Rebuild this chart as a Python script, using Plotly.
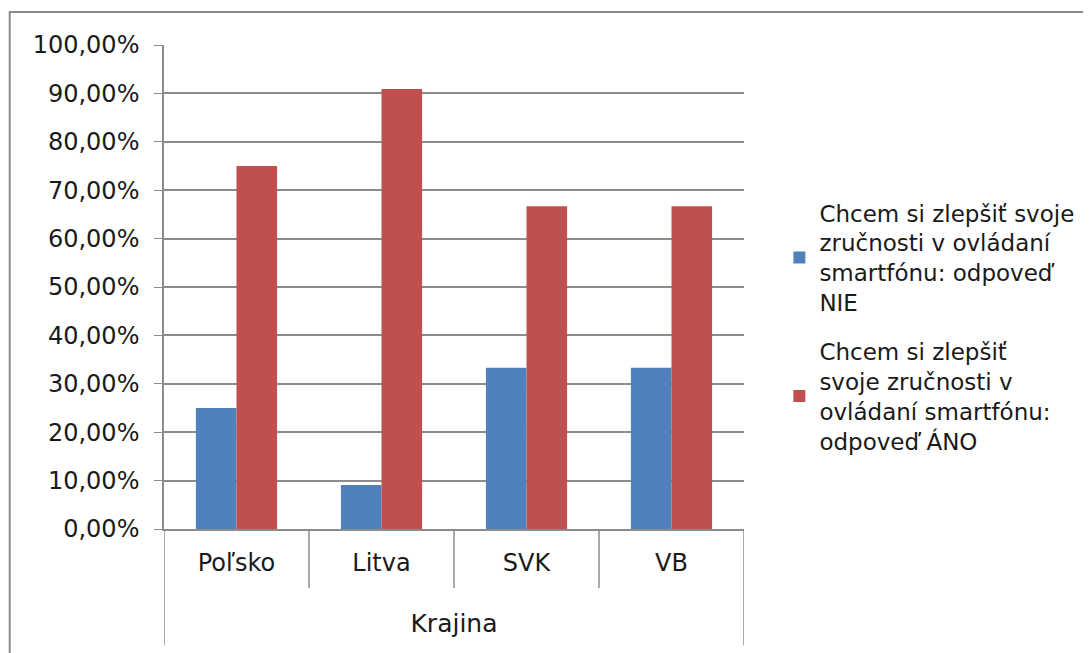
import plotly.graph_objects as go

krajiny = ["Poľsko", "Litva", "SVK", "VB"]
nie = [0.25, 0.0909, 0.3333, 0.3333]
ano = [0.75, 0.9091, 0.6667, 0.6667]
nazov_nie = "Chcem si zlepšiť svoje<br>zručnosti v ovládaní<br>smartfónu: odpoveď<br>NIE"
nazov_ano = "Chcem si zlepšiť<br>svoje zručnosti v<br>ovládaní smartfónu:<br>odpoveď ÁNO"

GRID = "#8c8c8c"
FONT = dict(family="DejaVu Sans, Verdana, sans-serif", size=24, color="#1a1a1a")

fig = go.Figure()
fig.add_trace(go.Bar(x=krajiny, y=nie, name=nazov_nie, legendgroup="nie",
                     marker=dict(color="#4F81BD", line=dict(width=0))))
fig.add_trace(go.Bar(x=krajiny, y=ano, name=nazov_ano, legendgroup="ano",
                     marker=dict(color="#C0504D", line=dict(width=0))))

# category separators reaching down under the labels (Excel style multi-level axis)
for i in range(len(krajiny) + 1):
    outer = i == 0 or i == len(krajiny)
    fig.add_shape(type="line", xref="x", yref="paper", x0=i - 0.5, x1=i - 0.5,
                  y0=0, y1=-0.24 if outer else -0.122, line=dict(color=GRID, width=1.5))

# chart border
fig.add_shape(type="rect", xref="paper", yref="paper", x0=-0.266, x1=2, y0=-1, y1=1.068,
              line=dict(color="#8a8a8a", width=2))

# page body adds 8px, so the figure is 8px smaller than the window
fig.update_layout(
    width=1083, height=645,
    font=FONT,
    separators=", ",
    barmode="group", bargap=0.44, bargroupgap=0,
    plot_bgcolor="white", paper_bgcolor="white",
    margin=dict(l=156, r=345, t=37, b=124),
    legend=dict(x=1.061, y=0.698, xanchor="left", yanchor="top", font=dict(size=23),
                itemsizing="constant", tracegroupgap=16, valign="middle"),
    xaxis=dict(showline=True, linecolor=GRID, linewidth=1.5, ticks="", ticklabelstandoff=11,
               title=dict(text="Krajina", standoff=39, font=dict(size=25)), range=[-0.5, 3.5]),
    yaxis=dict(range=[0, 1], dtick=0.1, tickformat=".2%", showgrid=True, gridcolor=GRID, gridwidth=1.5,
               showline=True, linecolor=GRID, linewidth=1.5, ticks="outside", ticklen=8,
               tickcolor=GRID, zeroline=False, ticklabelstandoff=10),
)

fig.write_html("out.html")
